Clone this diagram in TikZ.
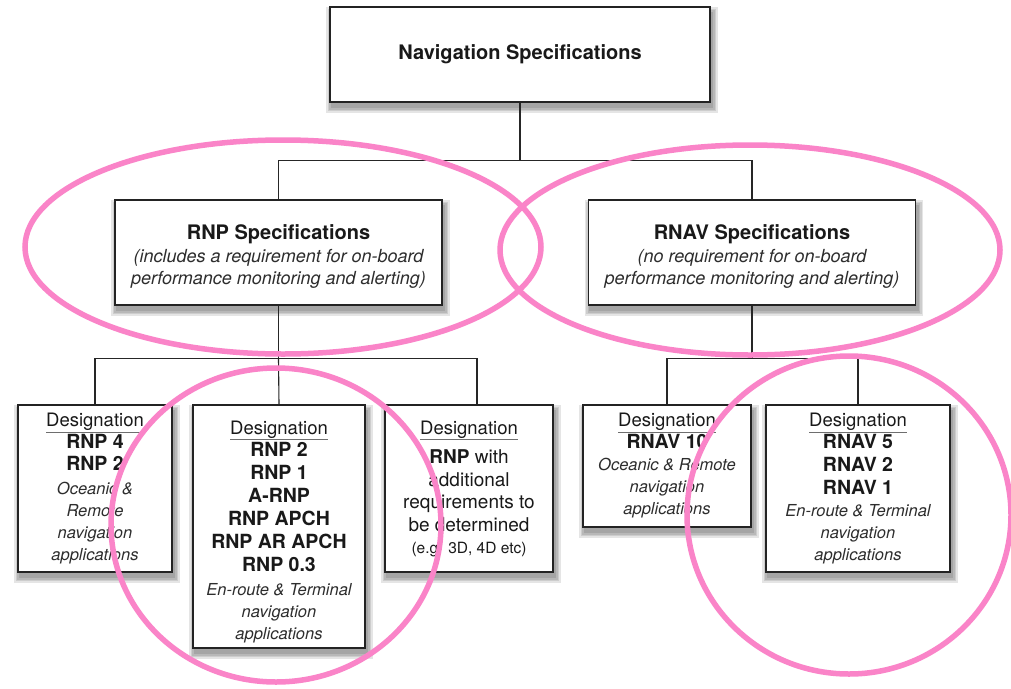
\documentclass[tikz,border=0pt]{standalone}
\usepackage{fontspec}
\setmainfont{TeX Gyre Heros}
\usetikzlibrary{backgrounds}
\definecolor{pinkring}{RGB}{250,132,200}
\definecolor{boxline}{RGB}{35,35,35}
\definecolor{txt}{RGB}{25,25,25}
\definecolor{itxt}{RGB}{45,45,45}
\definecolor{uline}{RGB}{110,110,110}
\newcommand\desig{{\fontsize{18.5}{22}\selectfont\rlap{\color{uline}\underline{\phantom{Designation}}}Designation}}
\newcommand\bline[1]{{\fontsize{19.5}{22}\selectfont\bfseries #1}}
\newcommand\iline[1]{{\fontsize{16.5}{22}\selectfont\itshape\color{itxt}#1}}
\newcommand\rline[1]{{\fontsize{19}{22}\selectfont #1}}
\newcommand\boxshadow[1]{%
  \foreach \s in {0,1.5,3,4.5}{%
    \fill[black,opacity=0.1] ([shift={(1.5-\s,5.5+\s)}]#1.south west)
      rectangle ([shift={(2.5+\s,5.5-\s)}]#1.north east);}}
\begin{document}
\begin{tikzpicture}[x=1pt,y=-1pt,
  box/.style={draw=boxline, line width=1.3pt, fill=white, align=center,
    inner sep=0pt, text=txt, font=\fontsize{17}{22}\selectfont},
  ring/.style={draw=pinkring, line width=5.5pt},
  conn/.style={draw=black!85, line width=1.1pt}]
\useasboundingbox (0,0) rectangle (1011,688);
\clip (0,0) rectangle (1011,688);

% top level
\node[box, minimum width=380pt, minimum height=95pt] (nav) at (520,54.5)
  {\fontsize{20}{24}\selectfont\bfseries Navigation Specifications};

% second level
\node[box, minimum width=327pt, minimum height=105pt] (rnp) at (278.5,252.5)
  {\rule{0pt}{23pt}{\fontsize{20}{23}\selectfont\bfseries RNP Specifications}\\[1pt]
   {\fontsize{18}{22}\selectfont\itshape\color{itxt}(includes a requirement for on-board}\\
   {\fontsize{18}{22}\selectfont\itshape\color{itxt}performance monitoring and alerting)}};
\node[box, minimum width=327pt, minimum height=105pt] (rnav) at (752,252.5)
  {\rule{0pt}{23pt}{\fontsize{20}{23}\selectfont\bfseries RNAV Specifications}\\[1pt]
   {\fontsize{18}{22}\selectfont\itshape\color{itxt}(no requirement for on-board}\\
   {\fontsize{18}{22}\selectfont\itshape\color{itxt}performance monitoring and alerting)}};

% third level
\node[box, minimum width=154pt, minimum height=167pt] (d1) at (95,488.5)
  {\desig\\ \bline{RNP 4}\\ \bline{RNP 2}\\[2pt] \iline{Oceanic \&}\\ \iline{Remote}\\
   \iline{navigation}\\ \iline{applications}};
\node[box, minimum width=172pt, minimum height=243pt] (d2) at (279,526.5)
  {\rule{0pt}{23.5pt}\desig\\ \bline{RNP 2}\\[1pt] \bline{RNP 1}\\[1pt] \bline{A-RNP}\\[1pt] \bline{RNP APCH}\\[1pt]
   \bline{RNP AR APCH}\\[1pt] \bline{RNP 0.3}\\[2pt] \iline{En-route \& Terminal}\\
   \iline{navigation}\\ \iline{applications}};
\node[box, minimum width=168pt, minimum height=167pt] (d3) at (469,488.5)
  {\desig\\[7pt] \rline{\textbf{RNP} with}\\[1pt] \rline{additional}\\ \rline{requirements to}\\[1pt]
   \rline{be determined}\\ {\fontsize{15.5}{20}\selectfont (e.g. 3D, 4D etc)}};
\node[box, minimum width=168pt, minimum height=122pt] (d4) at (667,466)
  {\desig\\ \bline{RNAV 10}\\ \iline{Oceanic \& Remote}\\ \iline{navigation}\\ \iline{applications}};
\node[box, minimum width=184pt, minimum height=167pt] (d5) at (858,488.5)
  {\desig\\ \bline{RNAV 5}\\[1pt] \bline{RNAV 2}\\[1pt] \bline{RNAV 1}\\ \iline{En-route \& Terminal}\\
   \iline{navigation}\\ \iline{applications}};

% background and soft shadows
\begin{scope}[on background layer]
  \fill[white] (0,0) rectangle (1011,688);
  \boxshadow{nav}\boxshadow{rnp}\boxshadow{rnav}
  \boxshadow{d1}\boxshadow{d2}\boxshadow{d3}\boxshadow{d4}\boxshadow{d5}
\end{scope}

% connectors
\draw[conn] (nav.south) -- ++(0,58) coordinate (j0);
\draw[conn] (rnp.north) |- (j0) -| (rnav.north);
\draw[conn] (rnp.south) -- ++(0,53) coordinate (j1);
\draw[conn] (j1) -- (d2.north);
\draw[conn] (d1.north) |- (j1) -| ([xshift=8pt]d3.north);
\draw[conn] (rnav.south) -- ++(0,53) coordinate (j2);
\draw[conn] (d4.north) |- (j2) -| (d5.north);

% pink highlight rings
\draw[ring] (283,247) ellipse [x radius=258pt, y radius=107pt];
\draw[ring] (750,250) ellipse [x radius=250pt, y radius=105pt];
\draw[ring] (276,525) ellipse [x radius=165pt, y radius=157pt];
\draw[ring] (849,515) ellipse [x radius=162pt, y radius=159pt];
\end{tikzpicture}
\end{document}
